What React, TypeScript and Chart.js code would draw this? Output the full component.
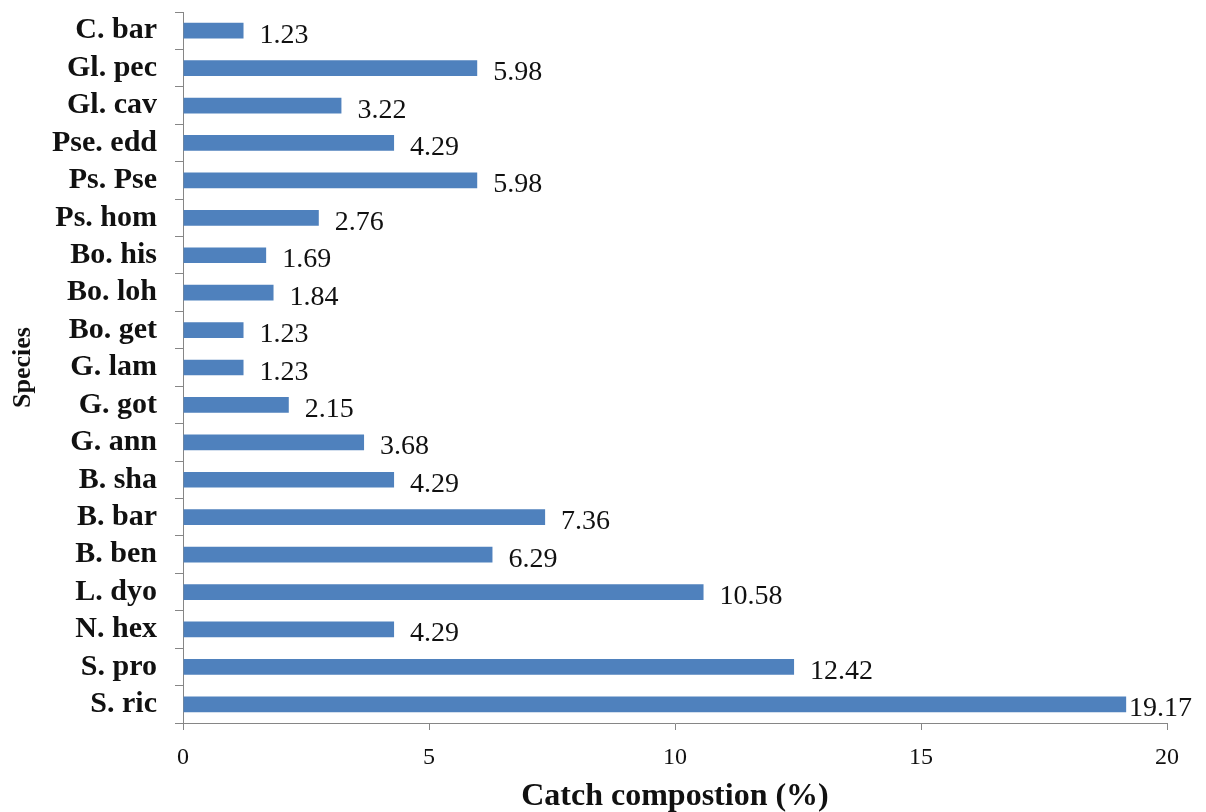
import React, { useEffect, useRef } from "react";
import { Chart, registerables } from "chart.js";

Chart.register(...registerables);

// Species codes, listed top to bottom
const species = [
  "C. bar",
  "Gl. pec",
  "Gl. cav",
  "Pse. edd",
  "Ps. Pse",
  "Ps. hom",
  "Bo. his",
  "Bo. loh",
  "Bo. get",
  "G. lam",
  "G. got",
  "G. ann",
  "B. sha",
  "B. bar",
  "B. ben",
  "L. dyo",
  "N. hex",
  "S. pro",
  "S. ric",
];

// Share of the total catch, in percent
const catchShare = [
  1.23, 5.98, 3.22, 4.29, 5.98, 2.76, 1.69, 1.84, 1.23, 1.23, 2.15, 3.68, 4.29,
  7.36, 6.29, 10.58, 4.29, 12.42, 19.17,
];

const xTicks = [0, 5, 10, 15, 20];

const SERIF = '"Liberation Serif", "Times New Roman", Times, serif';
const AXIS_GREY = "#868686";
const BAR_BLUE = "#4f81bd";

// Writes each bar's value just past its end
const valueLabels = {
  id: "valueLabels",
  afterDatasetsDraw(chart: any) {
    const { ctx } = chart;
    const meta = chart.getDatasetMeta(0);
    const values = chart.data.datasets[0].data as number[];
    ctx.save();
    ctx.font = `28px ${SERIF}`;
    ctx.fillStyle = "#111";
    ctx.textAlign = "left";
    ctx.textBaseline = "alphabetic";
    meta.data.forEach((bar: any, i: number) => {
      const text = values[i].toFixed(2);
      const w = ctx.measureText(text).width;
      let x = bar.x + 16;
      const limit = chart.width - 14 - w;
      if (x > limit) x = limit;
      ctx.fillText(text, x, bar.y + 12);
    });
    ctx.restore();
  },
};

export default function App() {
  const canvasRef = useRef<HTMLCanvasElement | null>(null);

  useEffect(() => {
    const canvas = canvasRef.current;
    if (!canvas) return;
    const chart = new Chart(canvas, {
      type: "bar",
      data: {
        labels: species,
        datasets: [
          {
            data: catchShare,
            backgroundColor: BAR_BLUE,
            borderWidth: 0,
            barPercentage: 0.42,
            categoryPercentage: 1,
          },
        ],
      },
      options: {
        indexAxis: "y",
        responsive: false,
        animation: false,
        events: [],
        layout: { padding: { top: 12, right: 39, left: 0, bottom: 0 } },
        plugins: {
          legend: { display: false },
          tooltip: { enabled: false },
        },
        scales: {
          x: {
            type: "linear",
            min: 0,
            max: 20,
            afterBuildTicks: (scale: any) => {
              scale.ticks = xTicks.map((v) => ({ value: v }));
            },
            afterFit: (scale: any) => {
              scale.height = 89;
            },
            grid: {
              display: true,
              drawOnChartArea: false,
              drawTicks: true,
              tickLength: 7,
              color: AXIS_GREY,
              lineWidth: 1,
            },
            border: { display: true, color: AXIS_GREY, width: 1 },
            ticks: {
              padding: 13,
              color: "#111",
              font: { family: SERIF, size: 24 },
              maxRotation: 0,
            },
            title: {
              display: true,
              text: "Catch compostion (%)",
              color: "#111",
              font: { family: SERIF, size: 32, weight: "bold" },
              padding: { top: 0, bottom: -4 },
            },
          },
          y: {
            type: "category",
            afterFit: (scale: any) => {
              scale.width = 183;
              scale.paddingTop = 0;
              scale.paddingBottom = 0;
            },
            grid: {
              display: true,
              offset: true,
              drawOnChartArea: false,
              drawTicks: true,
              tickLength: 8,
              color: AXIS_GREY,
              lineWidth: 1,
            },
            border: { display: true, color: AXIS_GREY, width: 1 },
            ticks: {
              padding: 18,
              color: "#111",
              autoSkip: false,
              font: { family: SERIF, size: 30, weight: "bold" },
            },
            title: {
              display: true,
              text: "Species",
              color: "#111",
              font: { family: SERIF, size: 26, weight: "bold" },
              padding: { top: 8, bottom: 0 },
            },
          },
        },
      },
      plugins: [valueLabels],
    });
    return () => chart.destroy();
  }, []);

  return (
    <div
      style={{
        position: "fixed",
        left: 0,
        top: 0,
        width: 1206,
        height: 812,
        background: "#fff",
      }}
    >
      <canvas ref={canvasRef} width={1206} height={812} />
    </div>
  );
}
